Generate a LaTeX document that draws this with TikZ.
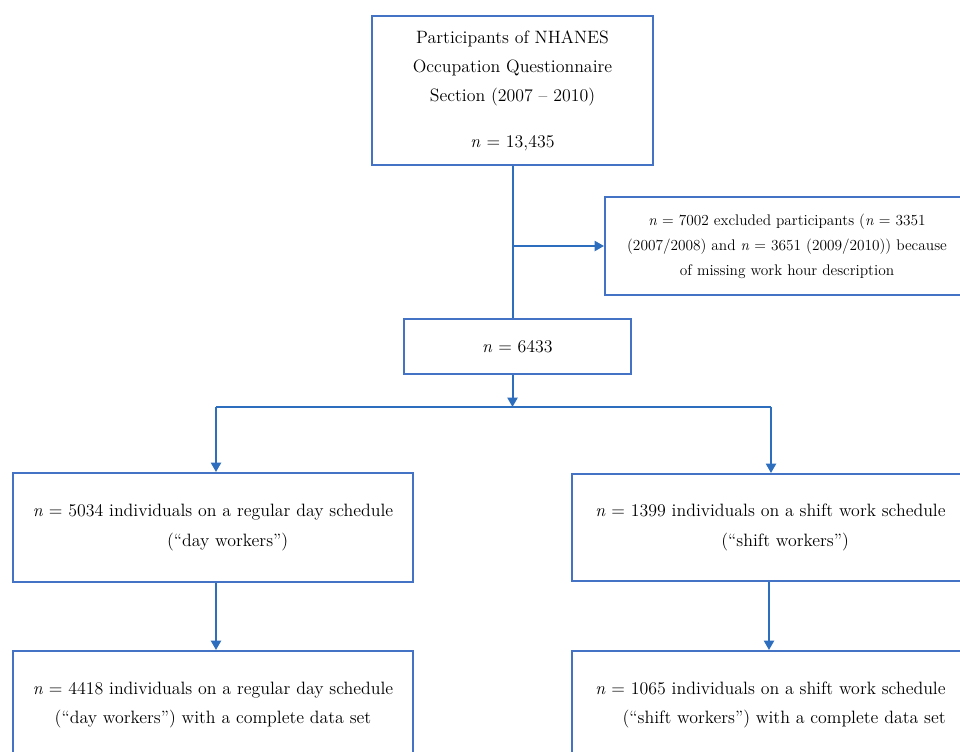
\documentclass[tikz,border=0pt]{standalone}
\usetikzlibrary{arrows.meta}
\definecolor{boxblue}{RGB}{68,114,196}
\definecolor{lineblue}{RGB}{46,110,190}
\begin{document}
\begin{tikzpicture}[x=0.75pt,y=-0.75pt,
  box/.style={draw=boxblue,line width=1.5pt,fill=white,inner sep=0pt,align=center,
    font=\fontsize{13.4}{22}\selectfont},
  conn/.style={draw=lineblue,line width=1.5pt},
  arr/.style={conn,-{Triangle[width=7.5pt,length=7pt]}}]
\useasboundingbox (0,0) rectangle (960,751);
\clip (0,0) rectangle (960,751);
\fill[white] (0,0) rectangle (960,751);

\node[box,minimum width=281*0.75pt,minimum height=149*0.75pt] (top) at (512.5,90.5)
  {Participants of NHANES\\Occupation Questionnaire\\Section (2007 -- 2010)\\[12pt]\textit{n} = 13,435};
\node[box,minimum width=364*0.75pt,minimum height=98*0.75pt,
  font=\fontsize{11.5}{18.75}\selectfont] (excl) at (787,246)
  {\textit{n} = 7002 excluded participants (\textit{n} = 3351\\(2007/2008) and \textit{n} = 3651 (2009/2010)) because\\of missing work hour description};
\node[box,minimum width=227*0.75pt,minimum height=55*0.75pt] (mid) at (517.5,346.5)
  {\textit{n} = 6433};
\node[box,minimum width=400*0.75pt,minimum height=109*0.75pt] (L1) at (213,527.5)
  {\textit{n} = 5034 individuals on a regular day schedule\\\hspace*{22pt}(``day workers'')};
\node[box,minimum width=397*0.75pt,minimum height=107*0.75pt] (R1) at (770.5,527.5)
  {\textit{n} = 1399 individuals on a shift work schedule\\\hspace*{22pt}(``shift workers'')};
\node[box,minimum width=400*0.75pt,minimum height=108*0.75pt] (L2) at (213,705)
  {\textit{n} = 4418 individuals on a regular day schedule\\(``day workers'') with a complete data set};
\node[box,align=right,minimum width=397*0.75pt,minimum height=108*0.75pt] (R2) at (770.5,705)
  {\textit{n} = 1065 individuals on a shift work schedule\\(``shift workers'') with a complete data set};

\coordinate (split) at (512.5,407);
\coordinate (lt) at (216,407);
\coordinate (rt) at (771,407);
\coordinate (rb) at (769,600);

\draw[conn] (top.south) -- (top.south |- mid.north);
\draw[arr] (top.south |- excl.west) -- (excl.west);
\draw[arr] (top.south |- mid.south) -- (split);
\draw[conn] (lt) -- (rt);
\draw[arr] (lt) -- (lt |- L1.north);
\draw[arr] (rt) -- (rt |- R1.north);
\draw[arr] (lt |- L1.south) -- (lt |- L2.north);
\draw[arr] (rb |- R1.south) -- (rb |- R2.north);
\end{tikzpicture}
\end{document}
